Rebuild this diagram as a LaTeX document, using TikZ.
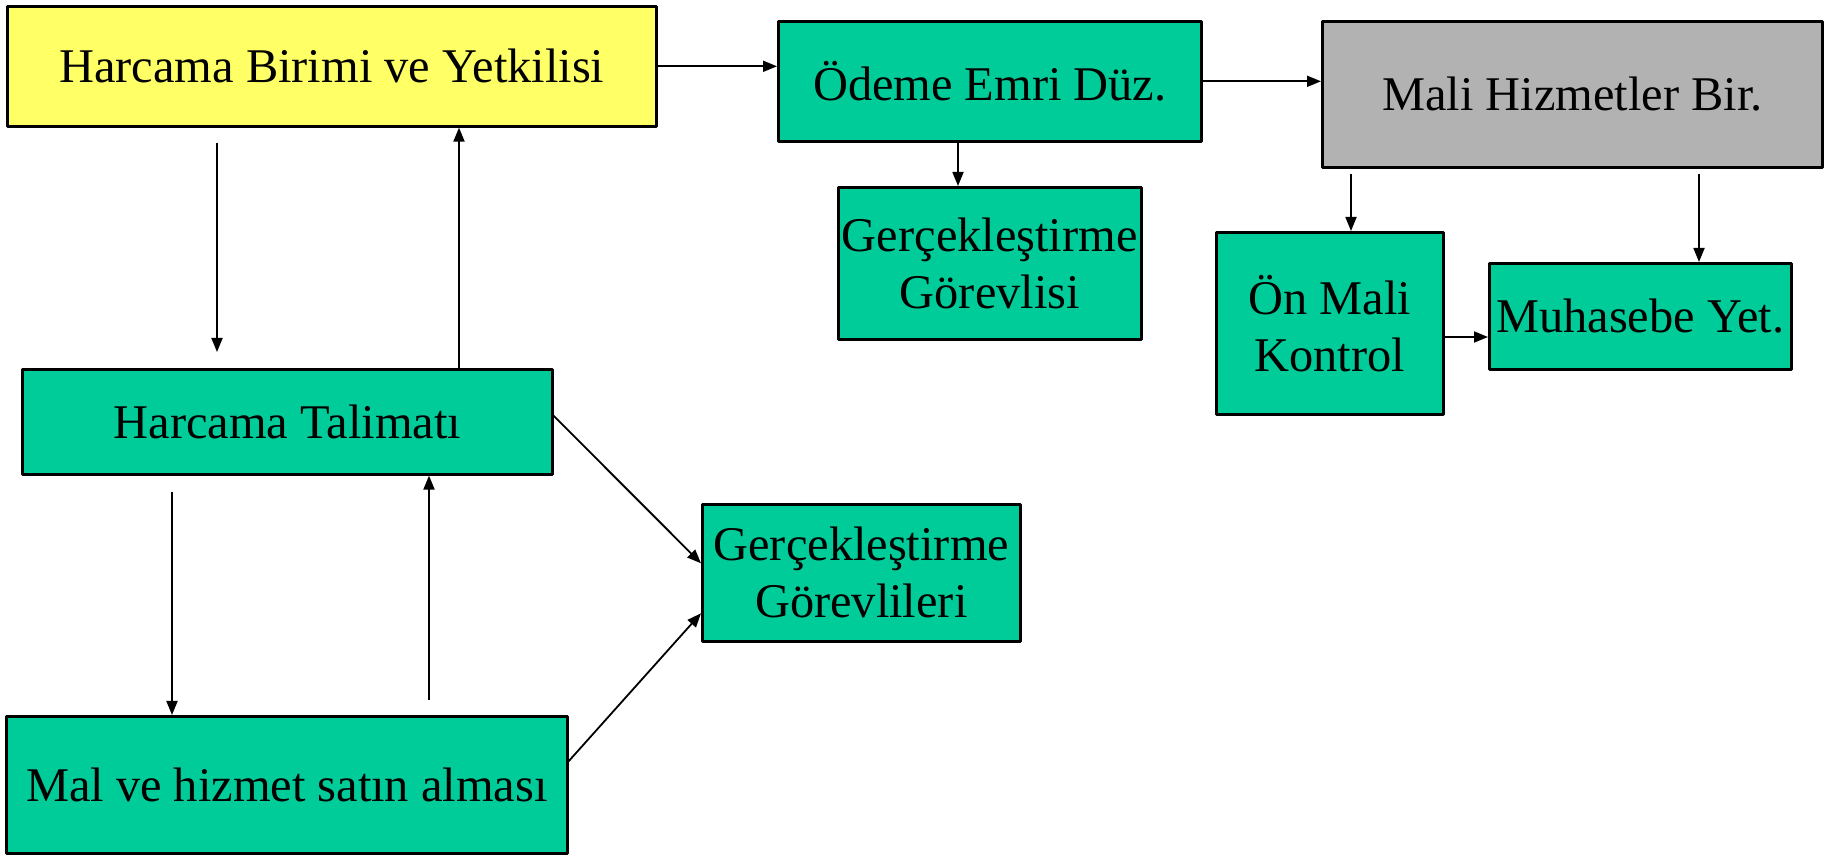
\documentclass[tikz,border=0pt]{standalone}
\usepackage{fontspec}
\setmainfont{Liberation Serif}
\usetikzlibrary{arrows.meta}
\definecolor{boxgreen}{HTML}{00CC99}
\definecolor{boxyellow}{HTML}{FFFF66}
\definecolor{boxgray}{HTML}{B2B2B2}
\tikzset{
  kutu/.style={draw,line width=1.3pt,fill=boxgreen,anchor=north west,inner sep=0pt,
    align=center,font=\fontsize{24.2}{28.5}\selectfont},
  ok/.style={line width=0.9pt,-{Triangle[length=7pt,width=5.5pt]}}
}
\begin{document}
\begin{tikzpicture}[x=0.5pt,y=-0.5pt,line join=round]
\useasboundingbox (0,0) rectangle (1833,855);
% kutular
\node[kutu,fill=boxyellow,minimum width=324.5pt,minimum height=60pt] (hby) at (6,5) {Harcama Birimi ve Yetkilisi};
\node[kutu,minimum width=211.5pt,minimum height=60pt] (oed) at (777,20) {Ödeme Emri Düz.};
\node[kutu,fill=boxgray,minimum width=250pt,minimum height=73pt] (mhb) at (1321,20) {Mali Hizmetler Bir.};
\node[kutu,minimum width=151.5pt,minimum height=76pt] (gg) at (837,186) {Gerçekleştirme\\Görevlisi};
\node[kutu,minimum width=113.5pt,minimum height=91pt] (omk) at (1215,231) {Ön Mali\\Kontrol};
\node[kutu,minimum width=151pt,minimum height=53pt] (my) at (1488,262) {Muhasebe Yet.};
\node[kutu,minimum width=265pt,minimum height=52.5pt] (ht) at (21,368) {Harcama Talimatı};
\node[kutu,minimum width=280.5pt,minimum height=68.5pt] (mhs) at (5,715) {Mal ve hizmet satın alması};
\node[kutu,minimum width=159pt,minimum height=68.5pt] (ggl) at (701,503) {Gerçekleştirme\\Görevlileri};
% dikey oklar icin x konumlari
\foreach \x/\t in {217/xa,459/xb,172/xc,429/xd,958/xe,1351/xf,1699/xg}
\coordinate (\t) at (\x,0);
\draw[ok] ([yshift=-7.5pt]hby.south -| xa) -- ([yshift=8pt]ht.north -| xa);
\draw[ok] (ht.north -| xb) -- (hby.south -| xb);
\draw[ok] ([yshift=-8pt]ht.south -| xc) -- (mhs.north -| xc);
\draw[ok] ([yshift=7.5pt]mhs.north -| xd) -- (ht.south -| xd);
\draw[ok] (oed.south -| xe) -- (gg.north -| xe);
\draw[ok] ([yshift=-2.5pt]mhb.south -| xf) -- (omk.north -| xf);
\draw[ok] ([yshift=-2.5pt]mhb.south -| xg) -- (my.north -| xg);
% yatay ve capraz oklar
\draw[ok] (hby.east) -- (hby.east -| oed.west);
\draw[ok] (oed.east) -- (oed.east -| mhb.west);
\draw[ok] ([yshift=-53pt]omk.north east) -- ([yshift=-53pt]omk.north east -| my.west);
\draw[ok] ([yshift=3pt]ht.east) -- ([yshift=4.75pt]ggl.west);
\draw[ok] ([yshift=11.75pt]mhs.east) -- ([yshift=-20.25pt]ggl.west);
\end{tikzpicture}
\end{document}
